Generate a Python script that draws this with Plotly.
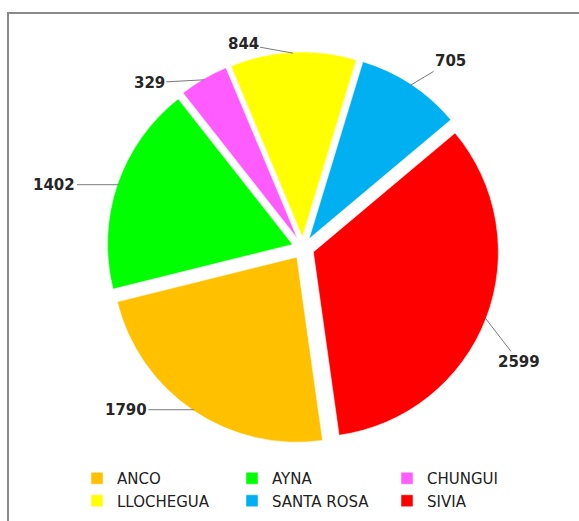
import math
import plotly.graph_objects as go

# Districts and their counts
districts = ["ANCO", "AYNA", "CHUNGUI", "LLOCHEGUA", "SANTA ROSA", "SIVIA"]
counts = [1790, 1402, 329, 844, 705, 2599]
colors = ["#FFC000", "#00FF00", "#FF5CFF", "#FFFF00", "#00B0F0", "#FF0000"]

W, H = 579, 521
PULL = 0.06
ROTATION = 172
CX, CY = 303, 248          # pie centre in px
R = 185                    # pie radius in px
BOX = 2 * R * (1 + PULL)   # plotly fits r = box / (2 + 2*pull)

# pixel offsets from each slice edge to its value label
label_offsets = {
    "ANCO": (-68, 0),
    "AYNA": (-64, 0),
    "CHUNGUI": (-55, 3),
    "LLOCHEGUA": (-50, -9),
    "SANTA ROSA": (40, -24),
    "SIVIA": (34, 44),
}

fig = go.Figure(go.Pie(
    labels=districts,
    values=counts,
    sort=False,
    direction="clockwise",
    rotation=ROTATION,
    pull=[PULL] * len(counts),
    marker=dict(colors=colors, line=dict(color="white", width=0.5)),
    textinfo="none",
    hoverinfo="label+value",
    domain=dict(x=[(CX - BOX / 2) / W, (CX + BOX / 2) / W],
                y=[1 - (CY + BOX / 2) / H, 1 - (CY - BOX / 2) / H]),
))

# value labels with leader lines, anchored at each slice's mid-angle
total = sum(counts)
start = ROTATION
edge = R * (1 + PULL) - 1
for name, v in zip(districts, counts):
    sweep = 360 * v / total
    mid = math.radians(start + sweep / 2)
    start += sweep
    px = CX + edge * math.sin(mid)
    py = CY - edge * math.cos(mid)
    ax, ay = label_offsets[name]
    fig.add_annotation(
        x=px / W, y=1 - py / H, xref="paper", yref="paper",
        ax=ax, ay=ay, text=f"<b>{v}</b>",
        showarrow=True, arrowhead=0, arrowwidth=1, arrowcolor="#7a7a7a",
        standoff=0, startstandoff=0,
        font=dict(family="DejaVu Sans", size=15, color="#262626"),
    )

# chart frame
fig.add_shape(type="rect", xref="paper", yref="paper",
              x0=8 / W, y0=-0.05, x1=1.05, y1=1 - 13 / H,
              line=dict(color="#8a8a8a", width=2), fillcolor="rgba(0,0,0,0)",
              layer="below")

fig.update_layout(
    width=W, height=H,
    margin=dict(l=0, r=0, t=0, b=0),
    paper_bgcolor="white",
    plot_bgcolor="white",
    showlegend=True,
    legend=dict(
        orientation="h",
        x=77 / W, xanchor="left",
        y=1 - 462 / H, yanchor="top",
        entrywidth=110, entrywidthmode="pixels",
        font=dict(family="DejaVu Sans", size=15, color="#222222"),
        traceorder="normal",
        bgcolor="rgba(0,0,0,0)",
    ),
)

fig.write_html("out.html")
